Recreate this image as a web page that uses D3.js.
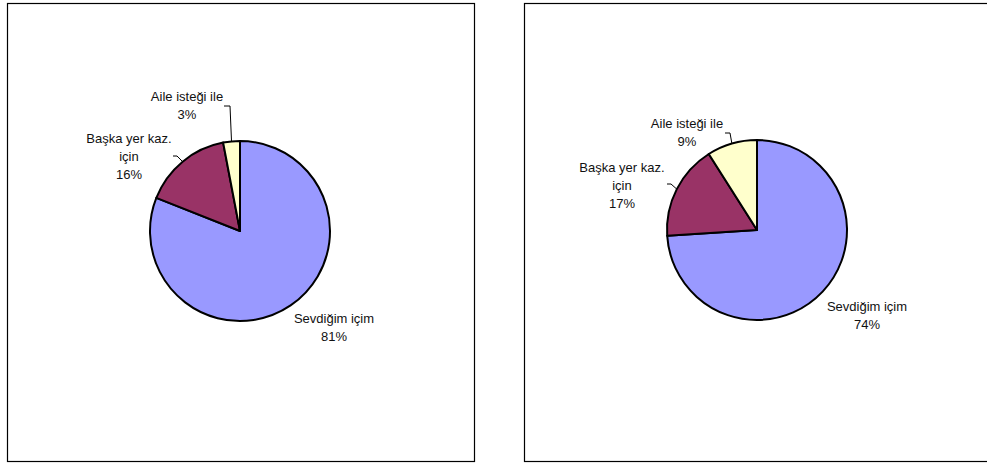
<!DOCTYPE html>
<html><head><meta charset="utf-8">
<script src="https://cdn.jsdelivr.net/npm/d3@7"></script>
<style>html,body{margin:0;padding:0;background:#fff;}svg{display:block;}</style>
</head><body>
<svg id="c" width="987" height="463"></svg>
<script>
const categories = ["Sevdiğim içim", "Başka yer kaz. için", "Aile isteği ile"];
const labelLines = [["Sevdiğim içim"], ["Başka yer kaz.", "için"], ["Aile isteği ile"]];
const leftValues = [81, 16, 3];
const rightValues = [74, 17, 9];
const colors = ["#9999FF", "#993366", "#FFFFCC"];

const svg = d3.select("#c");
const font = "Liberation Sans, Arial, sans-serif";

const panels = [
  { values: leftValues, frame: [7, 3, 467, 458], cx: 240, cy: 231, r: 90,
    labels: [
      { x: 334, y: 318, leader: null },
      { x: 129, y: 138, leader: { ex: 173, ey: 156, hx: 177 } },
      { x: 187, y: 96, leader: { ex: 224, ey: 106, hx: 230 } }
    ] },
  { values: rightValues, frame: [524, 3, 470, 458], cx: 757, cy: 230, r: 90,
    labels: [
      { x: 867, y: 306, leader: null },
      { x: 622, y: 167, leader: { ex: 667, ey: 184, hx: 671 } },
      { x: 687, y: 123, leader: { ex: 725, ey: 133, hx: 730 } }
    ] }
];

panels.forEach(p => {
  svg.append("rect").attr("x", p.frame[0] + 0.5).attr("y", p.frame[1] + 0.5)
    .attr("width", p.frame[2]).attr("height", p.frame[3])
    .attr("fill", "#fff").attr("stroke", "#000").attr("stroke-width", 1.2);

  const pie = d3.pie().sort(null).value(d => d)(p.values);
  const arc = d3.arc().innerRadius(0).outerRadius(p.r);
  const g = svg.append("g").attr("transform", `translate(${p.cx},${p.cy})`);
  g.selectAll("path").data(pie).join("path")
    .attr("d", arc)
    .attr("fill", (d, i) => colors[i])
    .attr("stroke", "#000").attr("stroke-width", 2).attr("stroke-linejoin", "round");

  const total = d3.sum(p.values);
  pie.forEach((d, i) => {
    const L = p.labels[i];
    const lines = labelLines[i].concat([Math.round(d.value / total * 100) + "%"]);
    const t = svg.append("text").attr("text-anchor", "middle")
      .attr("font-family", font).attr("font-size", 13).attr("fill", "#111");
    lines.forEach((s, k) => {
      t.append("tspan").attr("x", L.x).attr("y", L.y + 5 + k * 18).text(s);
    });
    if (L.leader) {
      const mid = (d.startAngle + d.endAngle) / 2;
      const ax = p.cx + p.r * Math.sin(mid);
      const ay = p.cy - p.r * Math.cos(mid);
      svg.append("path")
        .attr("d", `M${L.leader.ex},${L.leader.ey}L${L.leader.hx},${L.leader.ey}L${ax},${ay}`)
        .attr("fill", "none").attr("stroke", "#000").attr("stroke-width", 1);
    }
  });
});
</script>
</body></html>
